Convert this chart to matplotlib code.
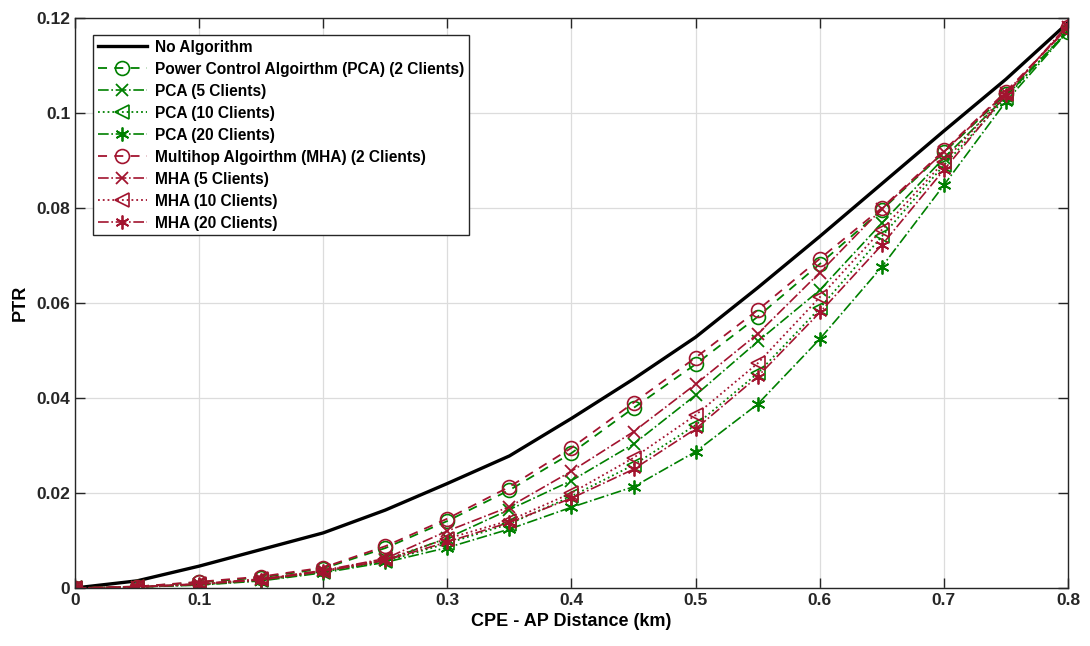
import numpy as np
import matplotlib
matplotlib.use('Agg')
import matplotlib.pyplot as plt

plt.rcParams['font.family'] = ['Liberation Sans', 'DejaVu Sans']
plt.rcParams['font.weight'] = 'bold'

# CPE - AP distance (km)
dist = [0, 0.05, 0.1, 0.15, 0.2, 0.25, 0.3, 0.35, 0.4, 0.45, 0.5, 0.55, 0.6, 0.65, 0.7, 0.75, 0.8]

no_alg = [0, 0.0015, 0.0046, 0.0081, 0.0116, 0.0164, 0.0220, 0.0278, 0.0357, 0.0440, 0.0528, 0.0632, 0.0740, 0.0851, 0.0962, 0.1071, 0.1190]

pca_2 = [0, 0.0003, 0.0012, 0.0022, 0.0041, 0.0084, 0.0141, 0.0206, 0.0284, 0.0379, 0.0471, 0.0571, 0.0682, 0.0796, 0.0917, 0.1040, 0.1171]
pca_5 = [0, 0.0002, 0.0008, 0.0017, 0.0035, 0.0058, 0.0105, 0.0165, 0.0226, 0.0303, 0.0406, 0.0519, 0.0627, 0.0768, 0.0905, 0.1035, 0.1172]
pca_10 = [0, 0.0002, 0.0007, 0.0016, 0.0034, 0.0056, 0.0094, 0.0135, 0.0193, 0.0259, 0.0343, 0.0452, 0.0589, 0.0740, 0.0890, 0.1032, 0.1175]
pca_20 = [0, 0.0002, 0.0006, 0.0015, 0.0032, 0.0054, 0.0085, 0.0124, 0.0170, 0.0213, 0.0287, 0.0387, 0.0524, 0.0676, 0.0848, 0.1024, 0.1172]

mha_2 = [0, 0.0003, 0.0013, 0.0024, 0.0043, 0.0088, 0.0146, 0.0213, 0.0295, 0.0390, 0.0485, 0.0585, 0.0693, 0.0800, 0.0921, 0.1045, 0.1180]
mha_5 = [0, 0.0002, 0.0009, 0.0019, 0.0037, 0.0062, 0.0120, 0.0171, 0.0246, 0.0329, 0.0429, 0.0535, 0.0664, 0.0798, 0.0918, 0.1043, 0.1180]
mha_10 = [0, 0.0002, 0.0008, 0.0018, 0.0036, 0.0060, 0.0104, 0.0142, 0.0200, 0.0274, 0.0364, 0.0473, 0.0612, 0.0754, 0.0897, 0.1040, 0.1182]
mha_20 = [0, 0.0002, 0.0008, 0.0017, 0.0035, 0.0058, 0.0097, 0.0138, 0.0189, 0.0250, 0.0335, 0.0445, 0.0580, 0.0722, 0.0880, 0.1038, 0.1186]

green = '#008000'
red = '#A2142F'
asterisk = (6, 2, 0)

fig = plt.figure(figsize=(10.9, 6.46), dpi=100)
ax = fig.add_axes([0.0688, 0.0898, 0.911, 0.8824])

ax.plot(dist, no_alg, color='black', lw=2.4, label='No Algorithm')

ax.plot(dist, pca_2, color=green, ls='--', dashes=(5, 4), lw=1.3, marker='o', ms=10, mfc='none', mew=1.2,
        label='Power Control Algoirthm (PCA) (2 Clients)')
ax.plot(dist, pca_5, color=green, ls='-.', lw=1.2, marker='x', ms=8, mew=1.3, label='PCA (5 Clients)')
ax.plot(dist, pca_10, color=green, ls=':', lw=1.3, marker='<', ms=10, mfc='none', mew=1.2, label='PCA (10 Clients)')
ax.plot(dist, pca_20, color=green, ls='-.', lw=1.2, marker=asterisk, ms=10, mew=1.3, label='PCA (20 Clients)')

ax.plot(dist, mha_2, color=red, ls='--', dashes=(5, 4), lw=1.3, marker='o', ms=10, mfc='none', mew=1.2,
        label='Multihop Algoirthm (MHA) (2 Clients)')
ax.plot(dist, mha_5, color=red, ls='-.', lw=1.2, marker='x', ms=8, mew=1.3, label='MHA (5 Clients)')
ax.plot(dist, mha_10, color=red, ls=':', lw=1.3, marker='<', ms=10, mfc='none', mew=1.2, label='MHA (10 Clients)')
ax.plot(dist, mha_20, color=red, ls='-.', lw=1.2, marker=asterisk, ms=10, mew=1.3, label='MHA (20 Clients)')

ax.set_xlim(0, 0.8)
ax.set_ylim(0, 0.12)
ax.set_xticks(np.arange(0, 0.81, 0.1))
ax.set_yticks(np.arange(0, 0.121, 0.02))
ax.set_xticklabels(['0', '0.1', '0.2', '0.3', '0.4', '0.5', '0.6', '0.7', '0.8'])
ax.set_yticklabels(['0', '0.02', '0.04', '0.06', '0.08', '0.1', '0.12'])
ax.tick_params(direction='in', top=True, right=True, labelsize=12.5, length=7, width=1, colors='#262626')
for lab in ax.get_xticklabels() + ax.get_yticklabels():
    lab.set_fontweight('bold')
    lab.set_color('#262626')
for s in ax.spines.values():
    s.set_color('#262626')
    s.set_linewidth(1.0)
ax.grid(True, color='#dcdcdc', lw=0.9)
ax.set_axisbelow(True)

ax.set_xlabel('CPE - AP Distance (km)', fontsize=13, fontweight='bold', labelpad=4)
ax.set_ylabel('PTR', fontsize=13, fontweight='bold', labelpad=5)

leg = ax.legend(loc='upper left', bbox_to_anchor=(0.018, 0.970), borderaxespad=0,
                prop={'weight': 'bold', 'size': 11.2},
                frameon=True, fancybox=False, edgecolor='#262626', framealpha=1, handlelength=3.2,
                labelspacing=0.45, borderpad=0.3, handletextpad=0.5)
leg.get_frame().set_linewidth(1.0)

fig.savefig('out.png', dpi=100)
